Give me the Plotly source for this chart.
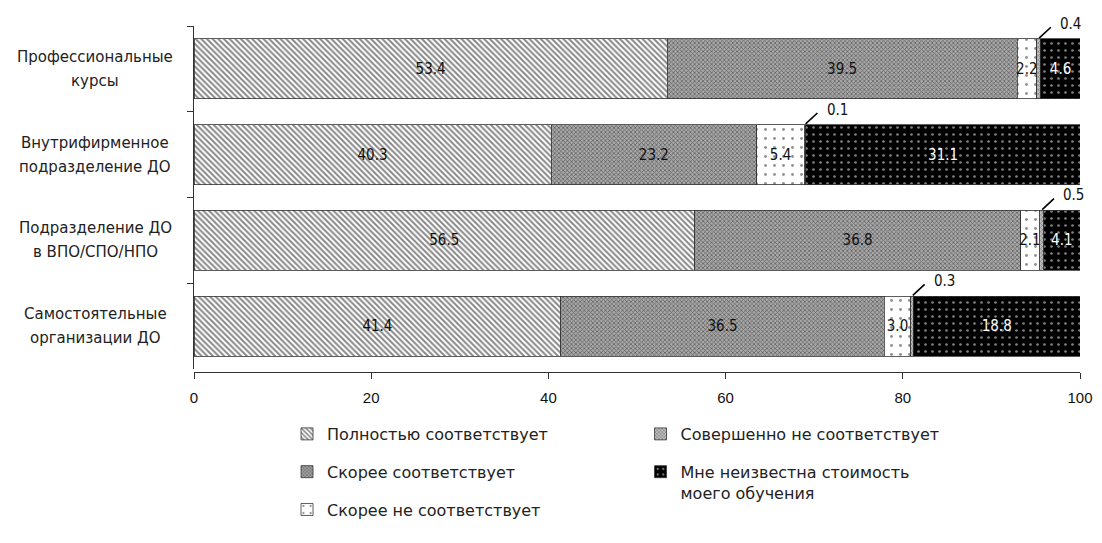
import plotly.graph_objects as go

categories = [
    "Профессиональные<br>курсы",
    "Внутрифирменное<br>подразделение ДО",
    "Подразделение ДО<br>в ВПО/СПО/НПО",
    "Самостоятельные<br>организации ДО",
]
series_names = [
    "Полностью соответствует",
    "Скорее соответствует",
    "Скорее не соответствует",
    "Совершенно не соответствует",
    "Мне неизвестна стоимость<br>моего обучения",
]
fully = [53.4, 40.3, 56.5, 41.4]
rather_yes = [39.5, 23.2, 36.8, 36.5]
rather_no = [2.2, 5.4, 2.1, 3.0]
not_at_all = [0.4, 0.1, 0.5, 0.3]
unknown = [4.6, 31.1, 4.1, 18.8]
x_ticks = [0, 20, 40, 60, 80, 100]

series_values = [fully, rather_yes, rather_no, not_at_all, unknown]

WIDE = "DejaVu Sans, sans-serif"
NARROW = "DejaVu Sans Condensed, Liberation Sans Narrow, DejaVu Sans, sans-serif"

patterns = [
    dict(shape="\\", fgcolor="#111111", bgcolor="#ffffff", size=4, solidity=0.5),
    dict(shape="x", fgcolor="#1a1a1a", bgcolor="#a8a8a8", size=3, solidity=0.45),
    dict(shape=".", fgcolor="#222222", bgcolor="#ffffff", size=9, solidity=0.08),
    dict(shape="x", fgcolor="#333333", bgcolor="#c0c0c0", size=3, solidity=0.4),
    dict(shape=".", fgcolor="#ffffff", bgcolor="#000000", size=7, solidity=0.12),
]
text_colors = ["#111111", "#111111", "#111111", "#111111", "#ffffff"]
legends = ["legend", "legend", "legend", "legend2", "legend2"]

fig = go.Figure()
for i, (name, vals) in enumerate(zip(series_names, series_values)):
    texts = [f"{v:.1f}" for v in vals] if i != 3 else ["" for v in vals]
    fig.add_trace(go.Bar(
        name=name,
        y=categories,
        x=vals,
        orientation="h",
        width=0.70,
        marker=dict(color=patterns[i]["bgcolor"], pattern=patterns[i],
                    line=dict(color="#333333", width=0.8)),
        text=texts,
        textposition="inside",
        insidetextanchor="middle",
        constraintext="none",
        textangle=0,
        textfont=dict(family=NARROW, size=15, color=text_colors[i]),
        legend=legends[i],
        legendgroup=name,
        hoverinfo="x+name",
    ))

FIG_W, FIG_H = 1094, 535
PLOT_L, PLOT_R = 186, 9
PLOT_W = FIG_W - PLOT_L - PLOT_R
label_cx = (86 - PLOT_L) / PLOT_W

annotations = []
for c in categories:
    lines = c.split("<br>")
    for k, ln in enumerate(lines):
        annotations.append(dict(
            x=label_cx, xref="paper", y=c, yref="y", xanchor="center", yanchor="middle",
            yshift=12 - 24 * k,
            text=ln, showarrow=False,
            font=dict(family=WIDE, size=15, color="#222222"),
        ))
for idx, c in enumerate(categories):
    start = fully[idx] + rather_yes[idx] + rather_no[idx]
    xc = start + not_at_all[idx] / 2
    ytop = idx - 0.35
    annotations.append(dict(
        x=xc, y=ytop, xref="x", yref="y", text="", showarrow=True,
        arrowhead=0, arrowwidth=1.6, arrowcolor="#000000",
        ax=14, ay=-13, standoff=1,
    ))
    annotations.append(dict(
        x=xc, y=ytop, xref="x", yref="y", text=f"{not_at_all[idx]:.1f}",
        showarrow=False, xanchor="left", yanchor="middle", xshift=20, yshift=15,
        font=dict(family=NARROW, size=15, color="#111111"),
    ))

fig.update_layout(
    width=FIG_W, height=FIG_H,
    barmode="stack",
    paper_bgcolor="white", plot_bgcolor="white",
    margin=dict(l=PLOT_L, r=PLOT_R, t=18, b=171),
    showlegend=True,
    annotations=annotations,
    xaxis=dict(
        range=[0, 100], tickvals=x_ticks, ticktext=[str(t) for t in x_ticks],
        showgrid=False, zeroline=False, showline=True, linecolor="#333333", linewidth=1,
        ticks="outside", ticklen=6, tickcolor="#333333",
        tickfont=dict(family="Liberation Sans, Arial, sans-serif", size=15, color="#111111"),
        ticklabelstandoff=6, ticklabeloverflow="allow",
        anchor="free", position=0,
    ),
    yaxis=dict(
        type="category", categoryorder="array", categoryarray=categories,
        autorange="reversed", domain=[0.009, 1],
        showgrid=False, zeroline=False, showline=True, linecolor="#333333", linewidth=1,
        ticks="outside", ticklen=6, tickcolor="#333333", tickson="boundaries",
        showticklabels=False,
    ),
    legend=dict(
        x=0.105, y=-0.13, xanchor="left", yanchor="top",
        traceorder="grouped", tracegroupgap=14, valign="top",
        font=dict(family=WIDE, size=16, color="#222222"),
        bgcolor="rgba(0,0,0,0)",
    ),
    legend2=dict(
        x=0.504, y=-0.13, xanchor="left", yanchor="top",
        traceorder="grouped", tracegroupgap=14, valign="top",
        font=dict(family=WIDE, size=16, color="#222222"),
        bgcolor="rgba(0,0,0,0)",
    ),
)

fig.write_html("out.html")
